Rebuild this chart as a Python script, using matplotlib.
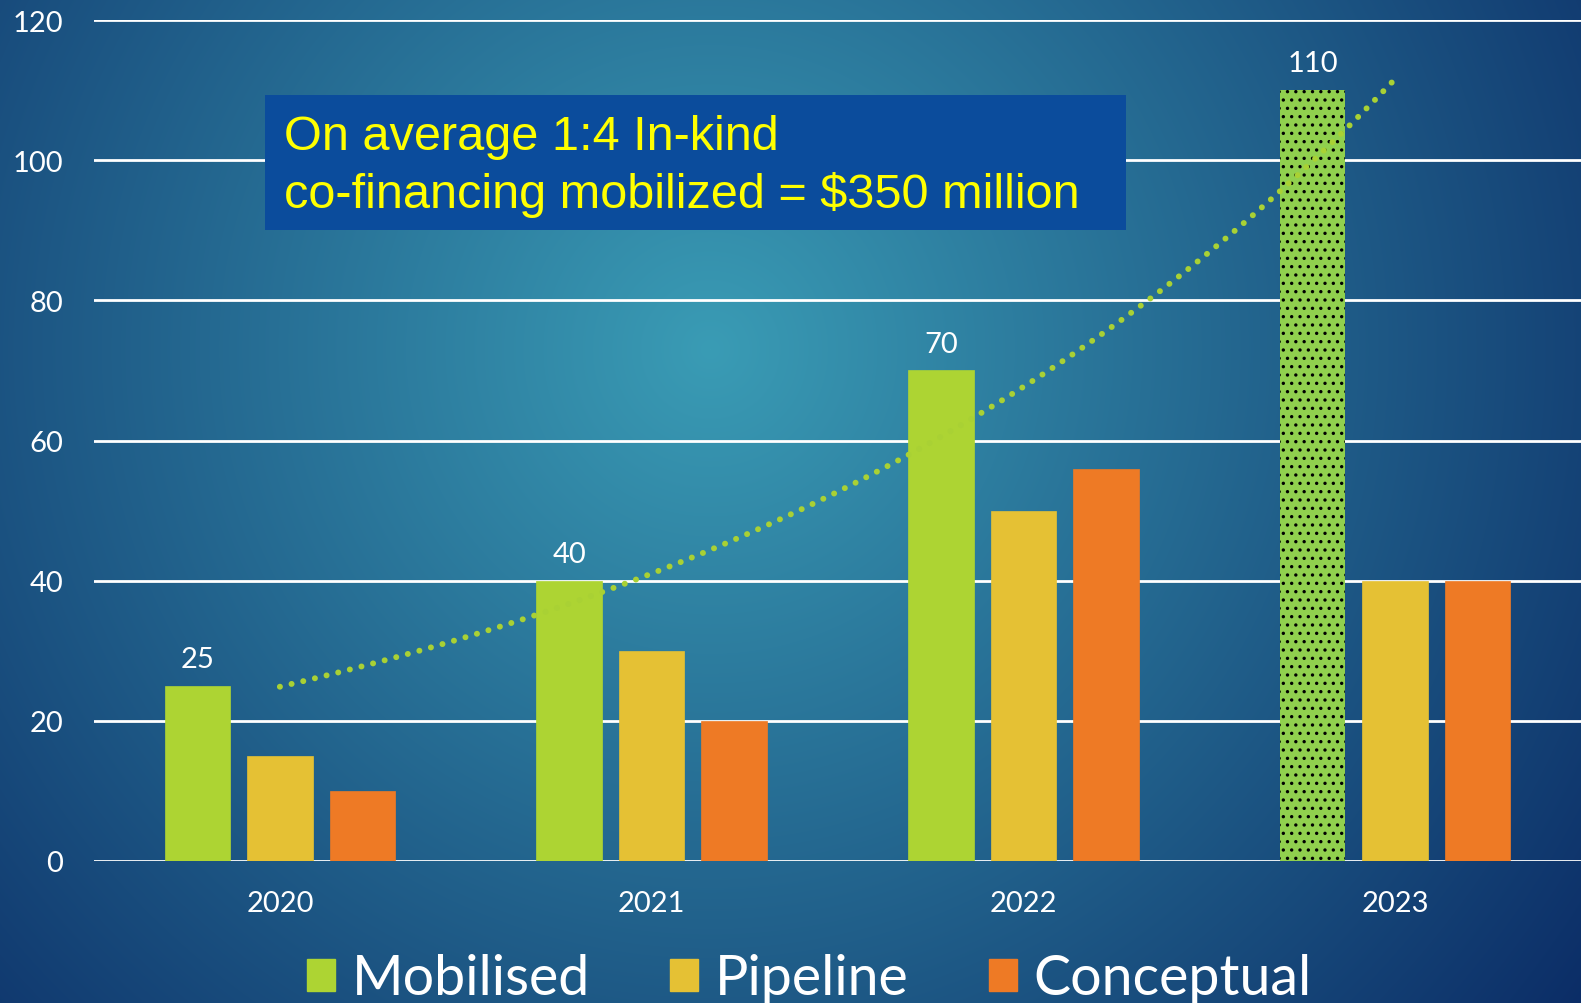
import numpy as np
import matplotlib.pyplot as plt
from matplotlib.patches import Rectangle, Patch
from matplotlib.colors import to_rgb

years = ['2020', '2021', '2022', '2023']
mobilised = [25, 40, 70, 110]
pipeline = [15, 30, 50, 40]
conceptual = [10, 20, 56, 40]
series_names = ['Mobilised', 'Pipeline', 'Conceptual']
series_colors = ['#ADD433', '#E5C134', '#EE7A25']
yticks = [0, 20, 40, 60, 80, 100, 120]
note_lines = ['On average 1:4 In-kind', 'co-financing mobilized = $350 million']

plt.rcParams['hatch.linewidth'] = 1.2

W, H = 1581, 1004
fig = plt.figure(figsize=(W / 100, H / 100), dpi=100)

# radial background, light teal in the middle, dark blue at the edges
bg = fig.add_axes([0, 0, 1, 1], zorder=-10)
yy, xx = np.mgrid[0:H, 0:W]
t = np.clip(np.hypot(xx - 710, yy - 350) / 1100, 0, 1)[..., None]
c0 = np.array(to_rgb('#3A9CB5'))
c1 = np.array(to_rgb('#0B2C66'))
bg.imshow(c0 * (1 - t) + c1 * t, aspect='auto', extent=[0, 1, 0, 1], origin='upper')
bg.axis('off')

ax = fig.add_axes([94 / W, 142 / H, 1 - 94 / W, 841 / H])
ax.patch.set_visible(False)

x = np.arange(len(years))
width = 0.176
offset = 0.222
for i, (vals, col) in enumerate(zip([mobilised, pipeline, conceptual], series_colors)):
    bars = ax.bar(x + (i - 1) * offset, vals, width, color=col, edgecolor=col,
                  linewidth=0.5, zorder=3)
    if i == 0:
        # last year is drawn with a dotted fill
        last = bars[-1]
        last.set_facecolor('#90D04E')
        last.set_edgecolor('black')
        last.set_linewidth(0)
        last.set_hatch('..')
        for b, v in zip(bars, vals):
            ax.annotate(str(v), (b.get_x() + b.get_width() / 2, v),
                        xytext=(0, 10), textcoords='offset points',
                        ha='center', va='bottom', color='white',
                        fontsize=21, family='Lato')

# exponential trendline of the mobilised series
k, c = np.polyfit(x, np.log(mobilised), 1)
xs = np.linspace(0, 3, 200)
ax.plot(xs, np.exp(c + k * xs), color='#A9D134', lw=4.3,
        linestyle=(0, (0.01, 2.0)), dash_capstyle='round', zorder=4)

ax.set_xlim(-0.5, 3.5)
ax.set_ylim(0, 120)
ax.set_yticks(yticks)
ax.set_xticks(x)
ax.set_xticklabels(years)
ax.grid(axis='y', color='white', lw=2, zorder=0)
ax.set_axisbelow(True)
for s in ax.spines.values():
    s.set_visible(False)
ax.tick_params(axis='y', length=0, pad=22, colors='white', labelsize=21)
ax.tick_params(axis='x', length=0, pad=21, colors='white', labelsize=21)
for lab in ax.get_xticklabels() + ax.get_yticklabels():
    lab.set_family('Lato')

# note box
fig.patches.append(Rectangle((265 / W, 1 - 231 / H), (1126 - 265) / W, (231 - 96) / H,
                             transform=fig.transFigure, facecolor='#0B4C9C',
                             edgecolor='none', zorder=5))
fig.text(284 / W, 1 - 137 / H, note_lines[0], color='#FFFF00', fontsize=35,
         family='Liberation Sans', va='center', ha='left', zorder=6)
fig.text(284 / W, 1 - 195 / H, note_lines[1], color='#FFFF00', fontsize=35,
         family='Liberation Sans', va='center', ha='left', zorder=6)

handles = [Patch(color=c) for c in series_colors]
leg = fig.legend(handles, series_names, loc='center', bbox_to_anchor=(0.512, 1 - 980 / H),
                 ncol=3, frameon=False, handlelength=0.5, handleheight=0.5,
                 handletextpad=0.3, columnspacing=1.45,
                 prop={'family': 'Lato', 'size': 40})
for txt in leg.get_texts():
    txt.set_color('white')

fig.savefig('out.png', dpi=100)
